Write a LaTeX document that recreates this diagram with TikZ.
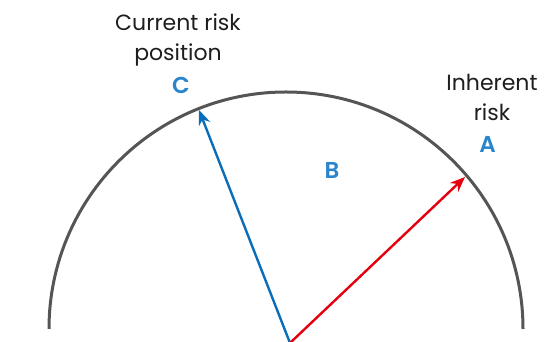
\documentclass[tikz,border=0pt]{standalone}
\usepackage{fontspec}
\setmainfont{Poppins}
\newfontfamily\labfont{Poppins SemiBold}
\usetikzlibrary{arrows.meta}
\definecolor{arcgray}{HTML}{555555}
\definecolor{labblue}{HTML}{2A86CC}
\definecolor{arrblue}{HTML}{0A6DBA}
\definecolor{arrred}{HTML}{E5000F}
\definecolor{txt}{HTML}{1E1E1E}
\tikzset{
  riskarrow/.style={line width=2.4pt,-{Stealth[length=15pt,width=12pt]}},
  caption/.style={font=\fontsize{22}{30}\selectfont,text=txt,align=center,inner sep=0pt,anchor=north},
  letter/.style={font=\labfont\fontsize{23}{23}\selectfont,text=labblue,inner sep=0pt}
}
\begin{document}
\begin{tikzpicture}[x=1pt,y=1pt]
\useasboundingbox (0,0) rectangle (560,342);
\coordinate (O) at (290,-1);
\coordinate (L) at (49,13);
\draw[arcgray,line width=3pt] (L) arc[start angle=180,end angle=0,radius=237] coordinate (R);
\coordinate (Ctip) at (199,232);
\coordinate (Atip) at (465,165);
\draw[riskarrow,arrblue] (O) -- (Ctip);
\draw[riskarrow,arrred] (O) -- (Atip);
\node[caption] (cur) at (178,328) {Current risk\\position};
\node[caption] (inh) at (492,268) {Inherent\\risk};
\node[letter] (C) at (181,257) {C};
\node[letter] (A) at (487.5,197.5) {A};
\node[letter] (B) at (332,172) {B};
\end{tikzpicture}
\end{document}
